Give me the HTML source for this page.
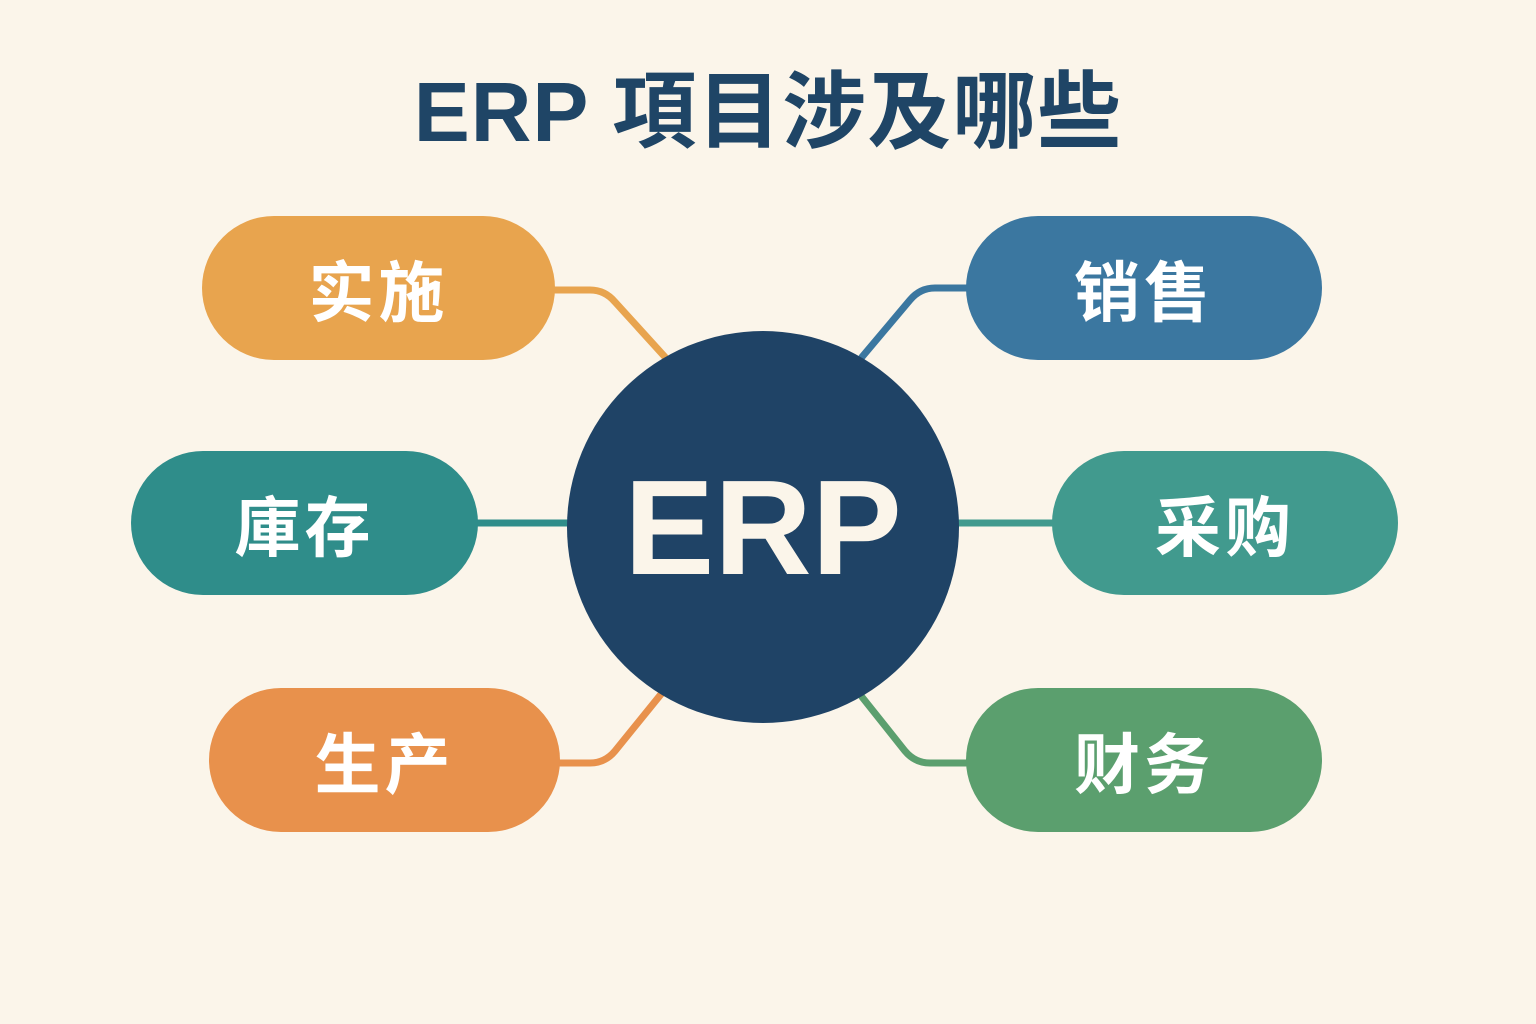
<!DOCTYPE html>
<html><head><meta charset="utf-8"><style>
html,body{margin:0;padding:0}
body{width:1536px;height:1024px;background:#fbf5ea;position:relative;overflow:hidden;font-family:"Liberation Sans","Noto Sans CJK SC",sans-serif}
.t{position:absolute;left:0;width:1536px;top:62px;text-align:center;font-size:84px;font-weight:bold;color:#1f4566;line-height:100px;letter-spacing:1px;font-family:"Liberation Sans","Noto Sans CJK TC",sans-serif}
.p{position:absolute;height:144px;border-radius:72px;color:#fff;font-weight:bold;font-size:66px;display:flex;align-items:center;justify-content:center;letter-spacing:4px;font-family:"Liberation Sans","Noto Sans CJK TC",sans-serif}
.c{position:absolute;left:567px;top:331px;width:392px;height:392px;border-radius:50%;background:#1f4366;color:#fbf5ea;font-size:135px;font-weight:bold;display:flex;align-items:center;justify-content:center}
</style></head><body>
<div class="t">ERP 項目涉及哪些</div>
<svg width="1536" height="1024" style="position:absolute;left:0;top:0" fill="none" stroke-width="7" stroke-linecap="round">
<path d="M550 290 H590 Q605 290 615 302 L665 357" stroke="#e8a44e"/>
<path d="M970 288 H935 Q920 288 910 300 L862 357" stroke="#3b77a0"/>
<path d="M475 523 H570" stroke="#2f8d8a"/>
<path d="M955 523 H1055" stroke="#419a8e"/>
<path d="M555 763 H590 Q605 763 615 751 L662 693" stroke="#e8914c"/>
<path d="M970 763 H930 Q915 763 905 751 L862 697" stroke="#5b9f6e"/>
</svg>
<div class="c">ERP</div>
<div class="p" style="left:202px;top:216px;width:353px;background:#e8a44e">实施</div>
<div class="p" style="left:966px;top:216px;width:356px;background:#3b77a0">销售</div>
<div class="p" style="left:131px;top:451px;width:347px;background:#2f8d8a">庫存</div>
<div class="p" style="left:1052px;top:451px;width:346px;background:#419a8e">采购</div>
<div class="p" style="left:209px;top:688px;width:351px;background:#e8914c">生产</div>
<div class="p" style="left:966px;top:688px;width:356px;background:#5b9f6e">财务</div>
</body></html>
